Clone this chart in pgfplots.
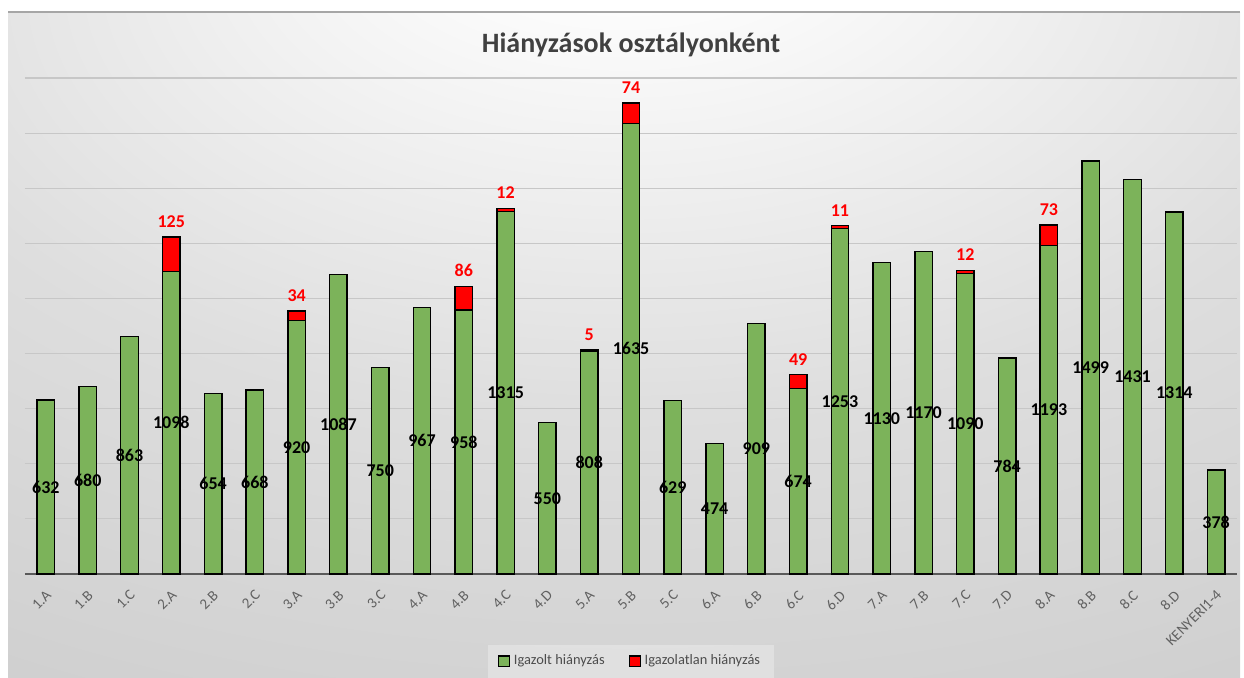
\documentclass[border=0pt]{standalone}
\usepackage{fontspec}
\setmainfont{Carlito}
\usepackage{pgfplots}
\usepackage{pgfplotstable}
\pgfplotsset{compat=1.18}
\definecolor{barg}{RGB}{124,179,90}
\definecolor{barr}{RGB}{255,0,0}
\pgfdeclareradialshading{bgshade}{\pgfpoint{0bp}{35bp}}{color(0bp)=(white); color(5bp)=(white); color(30bp)=(black!13); color(58bp)=(black!21); color(100bp)=(black!26)}

\pgfplotstableread{
x g r rl
0 632 0 {}
1 680 0 {}
2 863 0 {}
3 1098 125 125
4 654 0 {}
5 668 0 {}
6 920 34 34
7 1087 0 {}
8 750 0 {}
9 967 0 {}
10 958 86 86
11 1315 12 12
12 550 0 {}
13 808 5 5
14 1635 74 74
15 629 0 {}
16 474 0 {}
17 909 0 {}
18 674 49 49
19 1253 11 11
20 1130 0 {}
21 1170 0 {}
22 1090 12 12
23 784 0 {}
24 1193 73 73
25 1499 0 {}
26 1431 0 {}
27 1314 0 {}
28 378 0 {}
}\datatable

\begin{document}
\begin{tikzpicture}[x=1pt,y=1pt]
\useasboundingbox (0,0) rectangle (622,338.5);
\shade[shading=bgshade] (4,0) rectangle (620,332.5);
\draw[black!35, line width=0.8pt] (4,332.5) -- (620,332.5);
\begin{axis}[
  at={(12.5pt,51.5pt)}, anchor=south west,
  scale only axis, width=606pt, height=248pt,
  ybar stacked, bar width=8.75pt,
  xmin=-0.5, xmax=28.5, ymin=0, ymax=1800, enlargelimits=false,
  ytick={0,200,...,1800}, yticklabels={},
  ymajorgrids, grid style={black!22, line width=0.6pt},
  axis line style={draw=none}, tick style={draw=none},
  extra y ticks={0}, extra y tick labels={},
  extra y tick style={grid style={black!65, line width=1.1pt}},
  xtick={0,...,28},
  xticklabels={1.A,1.B,1.C,2.A,2.B,2.C,3.A,3.B,3.C,4.A,4.B,4.C,4.D,5.A,5.B,5.C,6.A,6.B,6.C,6.D,7.A,7.B,7.C,7.D,8.A,8.B,8.C,8.D,KENYERI1-4},
  xticklabel style={font=\fontsize{7.5}{8}\selectfont, text=black!62, rotate=45, anchor=north east, inner sep=1pt, xshift=-4.5pt, yshift=-4pt},
  every axis title shift=0pt,
  title={Hiányzások osztályonként},
  title style={at={(0.5,1.0665)}, anchor=center, font=\bfseries\fontsize{14}{16}\selectfont, text=black!75},
  legend style={at={(0.5,-0.176)}, anchor=center, legend columns=2, fill=white, fill opacity=0.3, text opacity=1, draw=none,
    font=\fontsize{7.2}{8}\selectfont, text=black!70, inner xsep=5pt, inner ysep=3pt,
    /tikz/every even column/.append style={column sep=10pt}},
  legend cell align=left,
]
\addplot[fill=barg, draw=black, line width=0.7pt,
  point meta=explicit symbolic,
  nodes near coords={\pgfplotspointmeta},
  every node near coord/.append style={anchor=center, font=\bfseries\fontsize{9}{10}\selectfont, text=black},
  legend image code/.code={\draw[fill=barg, draw=black, line width=0.6pt, fill opacity=1, draw opacity=1] (0pt,-2.7pt) rectangle (5.4pt,2.7pt);}
] table[x=x, y=g, meta=g] {\datatable};
\addplot[fill=barr, draw=black, line width=0.7pt,
  point meta=explicit symbolic,
  nodes near coords={\pgfplotspointmeta},
  visualization depends on={\thisrow{r}*0.0688889 \as \halfh},
  every node near coord/.append style={anchor=south, yshift={\halfh*1pt+1pt}, font=\bfseries\fontsize{9}{10}\selectfont, text=barr},
  legend image code/.code={\draw[fill=barr, draw=black, line width=0.6pt, fill opacity=1, draw opacity=1] (0pt,-2.7pt) rectangle (5.4pt,2.7pt);}
] table[x=x, y=r, meta=rl] {\datatable};
\legend{Igazolt hiányzás, Igazolatlan hiányzás}
\end{axis}
\end{tikzpicture}
\end{document}
